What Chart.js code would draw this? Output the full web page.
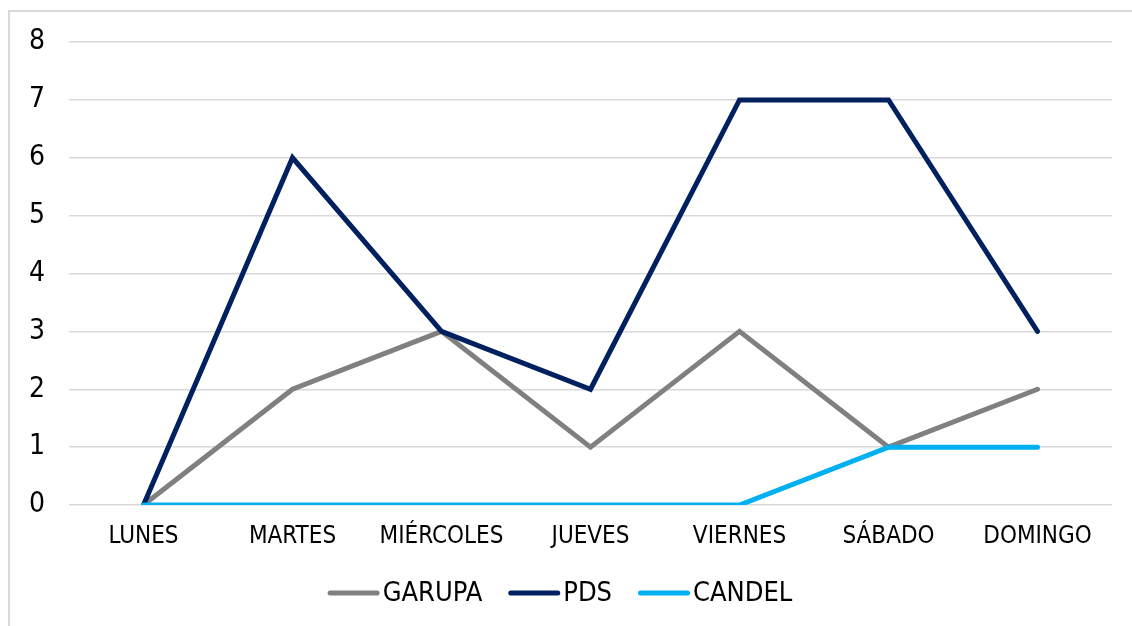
<!DOCTYPE html>
<html>
<head>
<meta charset="utf-8">
<script src="https://cdn.jsdelivr.net/npm/chart.js@4/dist/chart.umd.min.js"></script>
<style>
  html, body { margin: 0; padding: 0; background: #fff; }
  #wrap { width: 1132px; height: 626px; }
</style>
</head>
<body>
<div id="wrap"><canvas id="c" width="1132" height="626"></canvas></div>
<script>
const categories = ['LUNES', 'MARTES', 'MIÉRCOLES', 'JUEVES', 'VIERNES', 'SÁBADO', 'DOMINGO'];
const garupa = [0, 2, 3, 1, 3, 1, 2];
const pds    = [0, 6, 3, 2, 7, 7, 3];
const candel = [0, 0, 0, 0, 0, 1, 1];
const seriesNames = ['GARUPA', 'PDS', 'CANDEL'];
const seriesColors = ['#808080', '#002060', '#00B0F0'];
const yTicks = [0, 1, 2, 3, 4, 5, 6, 7, 8];

const FONT = '"DejaVu Sans Condensed", "DejaVu Sans", Tahoma, sans-serif';

const frame = {
  id: 'frame',
  beforeDraw(chart) {
    const ctx = chart.ctx;
    ctx.save();
    ctx.fillStyle = '#ffffff';
    ctx.fillRect(0, 0, chart.width, chart.height);
    ctx.strokeStyle = '#d9d9d9';
    ctx.lineWidth = 2;
    ctx.strokeRect(9, 11, 2000, 2000);
    ctx.restore();
  }
};

const customLegend = {
  id: 'customLegend',
  afterDraw(chart) {
    const ctx = chart.ctx;
    ctx.save();
    ctx.font = '27px ' + FONT;
    const lineW = 52, gapText = 3, gapItem = 26;
    const items = chart.data.datasets.map(d => ({label: d.label, color: d.borderColor, w: ctx.measureText(d.label).width}));
    let total = 0;
    items.forEach((it, i) => { total += lineW + gapText + it.w + (i < items.length - 1 ? gapItem : 0); });
    let x = 560 - total / 2;
    const y = 593;
    items.forEach(it => {
      ctx.strokeStyle = it.color;
      ctx.lineWidth = 5;
      ctx.lineCap = 'round';
      ctx.beginPath();
      ctx.moveTo(x + 2.5, y);
      ctx.lineTo(x + lineW - 2.5, y);
      ctx.stroke();
      ctx.fillStyle = '#000';
      ctx.textBaseline = 'middle';
      ctx.textAlign = 'left';
      ctx.fillText(it.label, x + lineW + gapText, y + 1);
      x += lineW + gapText + it.w + gapItem;
    });
    ctx.restore();
  }
};

const mk = (i, data, order) => ({
  label: seriesNames[i],
  data: data,
  borderColor: seriesColors[i],
  backgroundColor: seriesColors[i],
  borderWidth: 5,
  pointRadius: 0,
  pointHoverRadius: 0,
  tension: 0,
  fill: false,
  borderCapStyle: 'round',
  borderJoinStyle: 'miter',
  order: order
});

new Chart(document.getElementById('c'), {
  type: 'line',
  data: {
    labels: categories,
    datasets: [mk(0, garupa, 3), mk(1, pds, 2), mk(2, candel, 1)]
  },
  options: {
    responsive: false,
    animation: false,
    devicePixelRatio: 1,
    layout: { padding: { top: 42, right: 20, bottom: 0, left: 0 } },
    plugins: { legend: { display: false }, tooltip: { enabled: false } },
    scales: {
      x: {
        offset: true,
        grid: { display: false, drawTicks: false },
        border: { display: false },
        ticks: { color: '#000', font: { family: FONT, size: 24 }, padding: 17, maxRotation: 0, autoSkip: false },
        afterFit(scale) { scale.height = 121; }
      },
      y: {
        min: 0,
        max: 8,
        afterBuildTicks(scale) { scale.ticks = yTicks.map(v => ({ value: v })); },
        grid: { color: '#d9d9d9', lineWidth: 1.5, drawTicks: false },
        border: { display: false },
        ticks: { color: '#000', font: { family: FONT, size: 28 }, padding: 24 },
        afterFit(scale) { scale.width = 69; }
      }
    }
  },
  plugins: [frame, customLegend]
});
</script>
</body>
</html>
